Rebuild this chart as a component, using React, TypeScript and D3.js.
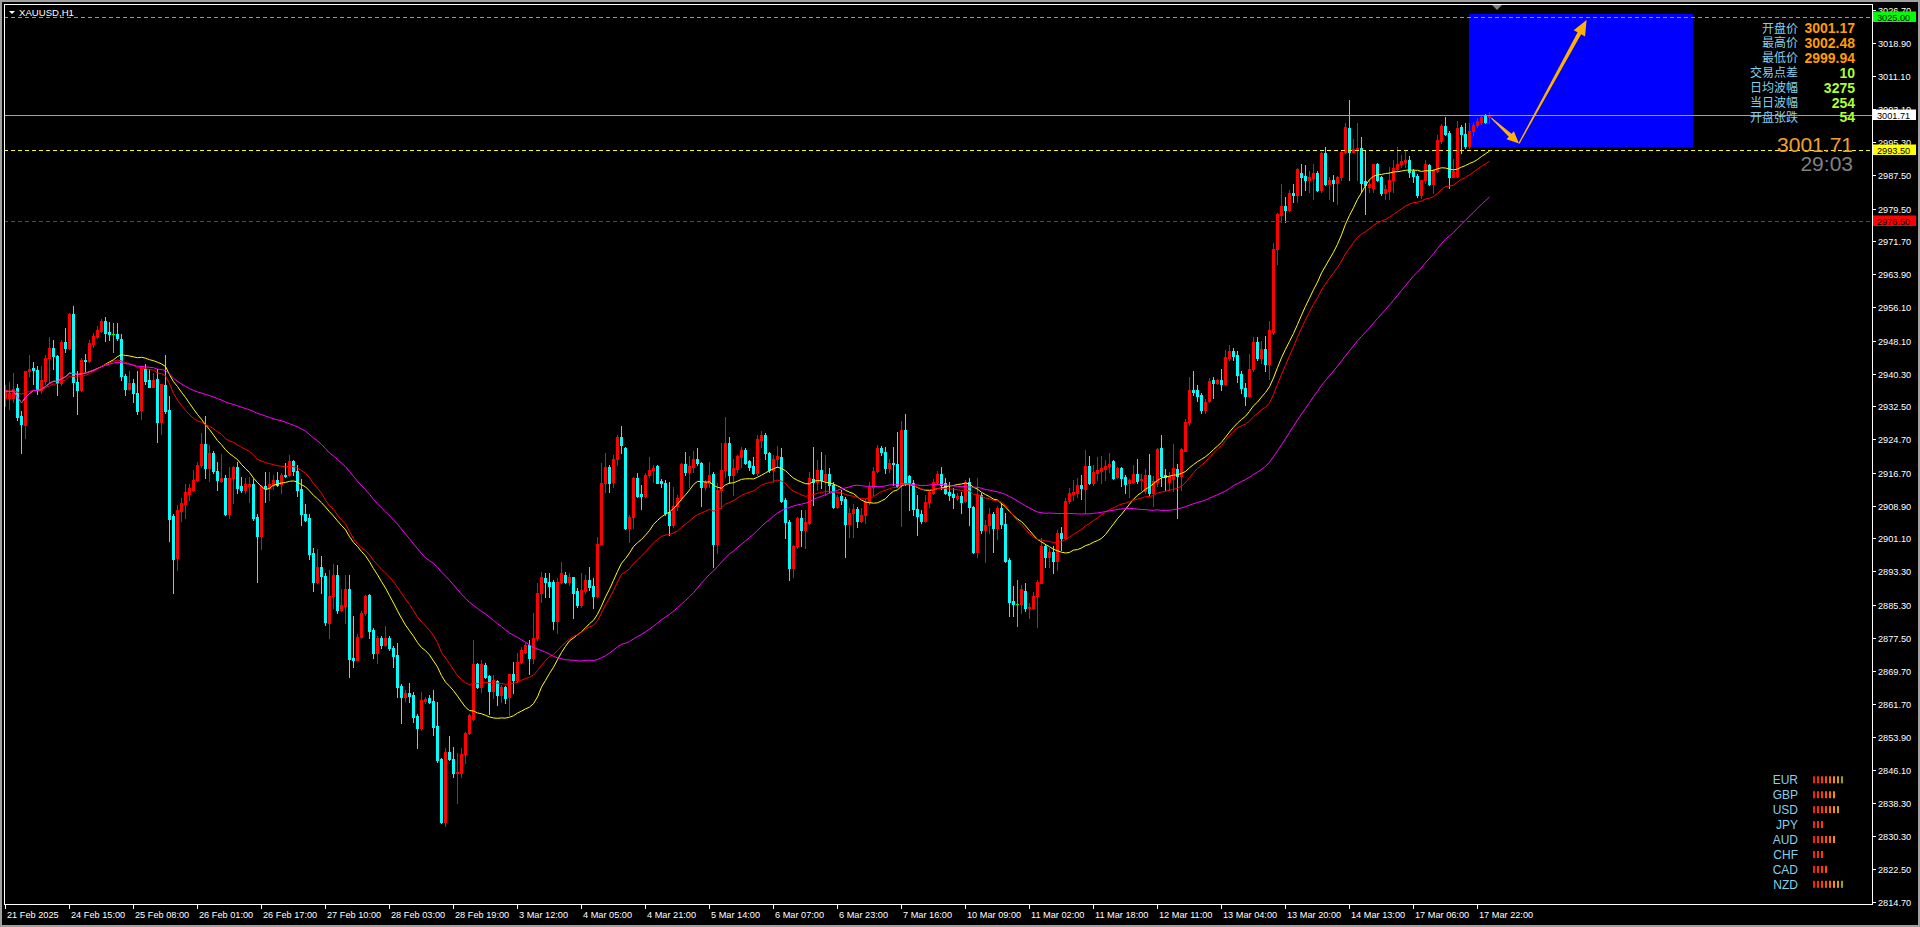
import React, { useEffect } from 'react';
import * as d3 from 'd3';

// ---------------- DATA ----------------
const opens = [
2934.4,2934.5,2934.5,2936.9,2930.1,2928.1,2940.8,2941.5,2941.1,2936.4,
2938.6,2944.0,2946.4,2944.4,2938.1,2947.8,2946.4,2954.5,2938.3,2936.4,
2943.5,2943.3,2947.4,2949.1,2950.4,2952.8,2950.2,2949.6,2949.6,2948.6,
2939.6,2936.6,2938.1,2935.7,2931.6,2941.4,2938.8,2937.2,2938.9,2928.7,
2937.6,2931.6,2906.4,2896.4,2907.7,2909.4,2911.7,2912.7,2915.0,2918.6,
2923.6,2917.9,2921.5,2917.2,2914.8,2915.4,2906.8,2915.4,2918.0,2913.5,
2912.6,2913.5,2914.1,2906.2,2901.8,2913.5,2913.0,2913.7,2915.1,2914.1,
2916.3,2916.3,2919.6,2917.2,2912.9,2906.8,2905.9,2897.6,2890.8,2894.3,
2892.1,2881.1,2887.4,2892.3,2884.2,2885.0,2889.1,2872.7,2872.2,2877.6,
2883.5,2887.6,2879.3,2873.8,2877.4,2875.8,2877.4,2875.0,2873.4,2866.1,
2863.5,2864.3,2863.9,2858.9,2856.0,2862.5,2863.3,2862.5,2856.5,2848.8,
2833.8,2850.4,2848.8,2845.3,2845.3,2849.9,2854.8,2858.1,2871.2,2865.9,
2871.0,2868.4,2864.9,2867.2,2863.9,2865.7,2863.5,2868.9,2867.5,2871.8,
2874.2,2875.8,2872.8,2877.4,2888.1,2891.6,2890.8,2890.8,2881.6,2890.8,
2892.4,2890.8,2891.9,2888.5,2885.3,2888.5,2891.2,2889.8,2887.5,2899.9,
2914.2,2918.2,2914.6,2919.9,2925.1,2922.7,2903.5,2906.1,2915.4,2911.7,
2911.3,2916.2,2917.4,2918.3,2914.8,2914.4,2907.5,2904.3,2908.7,2910.8,
2918.8,2917.0,2918.2,2920.1,2919.1,2913.3,2914.4,2916.4,2899.9,2912.6,
2917.4,2923.9,2916.2,2917.5,2920.5,2922.1,2919.6,2918.3,2916.7,2924.5,
2925.7,2921.3,2917.4,2919.9,2920.5,2910.2,2904.9,2894.2,2899.2,2906.0,
2903.1,2904.7,2915.2,2914.6,2917.4,2915.0,2916.4,2913.8,2908.5,2911.3,
2910.4,2904.5,2907.1,2908.0,2905.3,2906.7,2909.8,2913.3,2917.2,2922.7,
2921.7,2917.8,2919.0,2918.8,2913.8,2926.9,2915.9,2914.2,2908.1,2906.9,
2905.3,2909.8,2912.0,2914.6,2916.4,2914.4,2912.2,2911.7,2910.6,2911.2,
2910.1,2914.6,2908.5,2898.0,2911.4,2903.1,2904.3,2906.9,2903.7,2908.3,
2904.5,2896.0,2886.2,2885.5,2885.5,2888.6,2884.5,2884.5,2887.4,2890.6,
2899.3,2896.6,2898.0,2895.7,2902.5,2901.1,2910.0,2911.7,2911.8,2913.8,
2912.8,2918.3,2914.2,2916.7,2917.2,2917.7,2918.3,2919.5,2915.6,2917.8,
2915.6,2914.2,2914.6,2916.4,2915.0,2912.3,2916.2,2911.9,2914.5,2922.5,
2916.2,2914.5,2915.3,2917.7,2916.0,2922.0,2928.7,2936.4,2936.4,2935.2,
2931.7,2933.7,2938.7,2938.1,2938.7,2937.9,2944.0,2945.6,2944.8,2940.2,
2936.9,2935.0,2941.4,2947.9,2943.9,2946.2,2942.5,2950.2,2969.8,2977.9,
2980.2,2979.2,2983.1,2982.7,2987.9,2987.3,2986.2,2986.7,2987.9,2983.9,
2992.7,2985.4,2986.4,2985.6,2986.9,2992.9,2998.7,2993.0,2993.4,2993.9,
2986.0,2984.6,2984.5,2990.0,2986.9,2983.1,2983.7,2986.2,2988.9,2990.0,
2990.6,2991.0,2988.4,2987.3,2982.7,2986.2,2989.8,2985.4,2988.4,2995.6,
2999.2,2997.5,2987.0,2987.3,2998.9,2997.3,2994.4,2997.9,2999.4,3000.0,
3001.4,3001.17
];
const highs = [
2937.5,2938.3,2940.5,2937.9,2931.4,2941.0,2944.8,2943.1,2942.2,2942.2,
2944.8,2949.0,2948.3,2944.8,2948.3,2951.1,2954.8,2956.3,2940.9,2944.0,
2945.0,2948.3,2950.0,2951.5,2953.2,2953.7,2952.6,2952.4,2952.2,2949.6,
2940.1,2940.9,2938.9,2940.9,2942.2,2942.5,2941.4,2940.5,2941.4,2937.9,
2944.8,2934.9,2906.8,2909.0,2910.7,2914.1,2914.1,2917.4,2919.3,2926.2,
2930.1,2923.4,2921.9,2919.3,2921.2,2916.3,2918.0,2918.3,2919.3,2915.6,
2915.4,2915.6,2915.2,2906.8,2913.7,2916.9,2916.9,2916.3,2916.9,2916.7,
2919.1,2920.9,2919.8,2918.5,2915.2,2909.2,2906.8,2898.9,2898.6,2896.9,
2893.0,2893.7,2895.1,2894.9,2889.1,2892.5,2892.3,2882.6,2878.3,2883.9,
2887.6,2887.9,2879.8,2878.0,2878.0,2880.3,2878.0,2875.5,2876.2,2866.5,
2865.0,2866.7,2864.5,2859.3,2864.7,2863.5,2863.9,2865.1,2862.3,2848.9,
2851.2,2854.1,2851.6,2850.0,2851.2,2855.2,2859.5,2877.0,2871.4,2872.2,
2871.4,2868.6,2868.6,2867.5,2866.3,2866.0,2869.0,2871.8,2873.8,2875.4,
2876.2,2877.0,2883.3,2890.4,2893.2,2892.8,2892.8,2891.2,2891.6,2895.4,
2893.2,2893.0,2892.0,2889.4,2893.0,2892.4,2894.4,2891.6,2901.5,2919.0,
2921.3,2918.6,2920.9,2925.7,2927.8,2922.9,2906.7,2915.8,2916.7,2913.8,
2916.6,2920.5,2918.6,2918.6,2915.2,2915.0,2914.6,2913.4,2911.4,2919.1,
2921.7,2920.7,2922.0,2922.5,2919.2,2915.0,2919.3,2917.0,2914.2,2923.9,
2930.0,2925.3,2920.1,2920.9,2922.9,2922.5,2919.8,2920.5,2925.7,2926.6,
2926.1,2921.7,2920.9,2923.1,2922.5,2910.6,2905.6,2899.5,2906.3,2907.9,
2907.9,2917.0,2922.9,2919.8,2921.7,2920.9,2917.8,2914.6,2911.4,2912.6,
2911.0,2908.3,2909.3,2908.5,2908.3,2910.4,2914.6,2918.2,2923.3,2923.1,
2922.9,2920.1,2922.9,2926.5,2928.9,2930.7,2916.1,2915.0,2911.4,2907.9,
2911.4,2912.6,2915.2,2917.2,2918.2,2915.4,2914.6,2913.0,2912.0,2912.2,
2915.0,2915.4,2908.8,2915.4,2911.8,2905.5,2908.3,2907.5,2908.8,2909.5,
2907.1,2896.4,2889.8,2891.2,2890.0,2890.4,2885.7,2888.4,2891.2,2901.1,
2899.9,2898.8,2899.2,2903.1,2903.9,2910.6,2913.0,2915.0,2915.4,2916.2,
2922.1,2920.7,2918.6,2920.5,2920.7,2919.8,2921.5,2919.8,2918.2,2918.2,
2916.2,2915.2,2918.6,2920.1,2916.4,2917.7,2921.2,2916.0,2922.7,2925.6,
2917.7,2916.9,2923.5,2918.9,2922.7,2929.4,2939.4,2940.8,2937.5,2935.6,
2934.3,2939.2,2939.4,2938.9,2941.4,2946.0,2947.0,2946.4,2945.6,2941.0,
2938.1,2945.0,2948.9,2948.9,2948.1,2949.3,2952.7,2971.4,2978.5,2985.3,
2982.3,2983.9,2985.3,2989.2,2990.0,2989.8,2988.5,2990.0,2988.4,2992.9,
2994.1,2986.9,2987.5,2987.3,2993.4,2999.8,3005.2,2996.0,2999.8,2996.4,
2993.5,2986.5,2990.2,2990.4,2987.3,2985.2,2989.5,2991.0,2994.1,2992.3,
2993.4,2992.0,2988.9,2987.7,2986.4,2991.0,2990.2,2988.9,2997.0,2999.5,
3001.2,2997.9,2991.4,3000.4,2999.4,2999.8,2999.8,3000.2,3001.1,3001.7,
3002.0,3002.48
];
const lows = [
2932.7,2931.9,2933.6,2929.3,2921.3,2924.9,2939.8,2937.9,2935.5,2935.7,
2937.9,2938.3,2941.4,2935.3,2937.5,2945.3,2946.1,2934.9,2930.7,2936.2,
2940.9,2943.1,2946.5,2948.7,2950.2,2948.1,2948.3,2945.3,2948.3,2938.8,
2935.1,2936.3,2933.6,2930.6,2929.5,2937.9,2937.0,2937.0,2924.1,2926.0,
2931.0,2900.6,2888.2,2893.7,2905.3,2906.0,2910.3,2912.4,2914.8,2918.0,
2915.4,2914.8,2916.7,2912.7,2914.6,2906.6,2906.0,2909.6,2912.0,2912.2,
2912.0,2909.8,2905.5,2890.8,2898.6,2909.8,2910.3,2912.9,2913.5,2912.0,
2915.7,2915.9,2916.3,2911.3,2904.4,2905.2,2896.3,2888.7,2890.6,2888.2,
2880.6,2877.4,2884.5,2883.5,2883.9,2881.1,2868.1,2870.5,2872.1,2877.4,
2883.0,2877.4,2872.7,2871.4,2875.0,2875.5,2874.5,2870.6,2863.5,2857.2,
2862.5,2862.3,2857.5,2851.2,2855.5,2862.0,2861.9,2854.4,2848.0,2833.5,
2832.8,2848.4,2844.5,2838.2,2844.5,2847.7,2854.6,2857.9,2865.5,2864.7,
2867.9,2859.5,2863.1,2861.5,2862.3,2861.9,2859.1,2864.3,2867.1,2871.4,
2873.8,2869.0,2871.4,2877.0,2886.1,2887.3,2887.3,2879.7,2878.6,2890.4,
2890.4,2890.0,2882.1,2884.9,2884.9,2888.2,2888.8,2884.5,2887.1,2899.8,
2912.2,2912.2,2913.3,2918.6,2921.3,2903.3,2900.3,2903.5,2911.0,2908.1,
2911.0,2915.6,2914.6,2914.2,2913.4,2906.7,2901.9,2903.9,2907.9,2910.2,
2916.2,2913.3,2917.0,2918.6,2908.8,2912.6,2913.4,2894.4,2897.7,2908.3,
2915.8,2914.2,2911.4,2917.0,2918.2,2918.8,2917.4,2916.4,2916.2,2922.9,
2920.1,2917.0,2914.6,2918.2,2909.8,2901.1,2891.2,2892.0,2898.8,2899.2,
2898.8,2904.5,2909.1,2912.6,2913.0,2911.4,2912.2,2908.3,2908.3,2909.4,
2896.8,2901.5,2901.4,2903.9,2904.9,2904.7,2909.4,2911.4,2917.0,2920.9,
2916.7,2917.0,2913.8,2913.4,2904.1,2913.8,2907.9,2906.7,2901.9,2904.7,
2904.9,2908.5,2911.7,2914.0,2912.8,2911.7,2910.2,2908.3,2910.2,2907.1,
2909.8,2904.3,2897.7,2896.8,2902.5,2895.6,2902.3,2898.0,2900.9,2903.5,
2895.6,2882.7,2882.7,2880.3,2883.3,2883.9,2882.1,2884.3,2880.1,2890.4,
2894.4,2894.4,2892.8,2893.6,2898.4,2900.9,2909.5,2910.2,2911.0,2910.4,
2907.1,2914.0,2913.8,2915.0,2914.2,2915.0,2917.0,2915.2,2915.4,2913.6,
2912.0,2910.9,2914.4,2914.4,2912.7,2911.9,2911.4,2908.9,2913.5,2913.5,
2912.7,2912.7,2912.3,2906.0,2912.7,2921.9,2928.1,2935.2,2933.7,2931.0,
2930.9,2933.5,2934.5,2937.7,2936.4,2937.5,2943.5,2943.4,2938.4,2935.6,
2932.9,2934.8,2941.0,2943.5,2942.7,2941.0,2938.9,2949.8,2966.4,2976.4,
2976.2,2978.9,2981.0,2981.0,2982.7,2983.9,2983.5,2981.7,2983.7,2983.5,
2985.2,2981.7,2981.2,2980.6,2986.4,2992.7,2986.2,2992.9,2986.4,2983.4,
2978.3,2983.5,2983.5,2986.0,2982.7,2981.7,2981.7,2983.5,2988.5,2989.5,
2989.4,2986.9,2985.9,2982.3,2982.0,2985.6,2985.2,2983.1,2988.1,2995.2,
2996.9,2984.5,2986.9,2986.9,2992.7,2993.9,2993.9,2997.0,2998.9,2999.6,
2999.8,2999.94
];
const closes = [
2936.2,2935.7,2936.6,2930.0,2928.2,2940.9,2941.4,2941.1,2936.4,2938.8,
2944.0,2946.4,2944.4,2938.1,2947.8,2946.4,2954.5,2938.3,2936.4,2943.5,
2943.3,2947.6,2949.3,2950.6,2952.8,2950.0,2949.6,2949.6,2948.7,2939.6,
2936.6,2938.1,2935.7,2931.4,2941.5,2938.6,2937.2,2938.8,2928.7,2937.7,
2931.4,2905.8,2896.3,2907.8,2909.6,2912.2,2913.0,2915.0,2918.6,2923.6,
2917.9,2921.5,2917.2,2914.9,2915.4,2906.8,2915.4,2918.0,2913.1,2912.6,
2914.1,2914.1,2905.9,2901.8,2913.5,2913.1,2914.1,2915.0,2913.7,2916.3,
2915.9,2919.6,2917.2,2912.7,2906.8,2905.5,2897.5,2890.8,2894.3,2892.1,
2881.3,2887.4,2892.3,2884.2,2885.2,2889.1,2872.5,2872.2,2877.6,2883.5,
2887.4,2879.2,2873.8,2877.4,2875.8,2877.4,2875.0,2873.2,2865.9,2863.5,
2864.3,2863.7,2858.7,2856.0,2862.7,2862.9,2862.3,2856.4,2848.4,2833.8,
2850.4,2848.6,2845.3,2845.6,2849.9,2854.8,2859.1,2871.2,2865.9,2871.2,
2868.1,2864.9,2867.5,2863.9,2865.7,2863.3,2868.9,2867.5,2871.8,2874.6,
2875.8,2872.8,2877.4,2888.1,2892.0,2890.8,2889.9,2881.5,2890.8,2893.0,
2890.8,2891.9,2888.2,2885.3,2888.9,2891.2,2889.5,2887.5,2899.9,2914.2,
2918.2,2914.2,2919.9,2925.1,2923.3,2903.5,2906.3,2915.4,2911.3,2911.3,
2916.2,2917.4,2917.9,2914.4,2914.2,2907.1,2904.3,2908.8,2910.8,2918.8,
2917.0,2918.3,2919.9,2919.0,2913.3,2914.6,2916.2,2899.9,2912.6,2917.4,
2923.9,2916.2,2917.8,2920.7,2922.1,2919.1,2918.2,2916.7,2924.7,2925.7,
2921.3,2917.4,2919.9,2920.7,2910.1,2904.9,2894.2,2899.3,2906.0,2903.1,
2904.9,2915.4,2914.6,2917.4,2915.0,2916.4,2913.8,2908.5,2910.9,2910.2,
2904.5,2907.1,2908.0,2905.3,2906.7,2909.8,2913.3,2917.2,2922.7,2921.7,
2917.8,2919.1,2918.7,2913.6,2926.9,2914.2,2914.2,2908.1,2906.4,2905.3,
2909.8,2912.2,2914.6,2916.4,2913.8,2912.0,2911.4,2911.0,2911.2,2909.8,
2914.6,2908.5,2898.0,2911.4,2903.0,2904.3,2906.9,2903.7,2908.3,2904.5,
2895.8,2886.1,2885.5,2885.5,2889.2,2884.5,2884.7,2887.4,2890.8,2899.2,
2896.6,2898.0,2895.7,2902.5,2901.1,2910.0,2911.8,2912.2,2913.8,2913.0,
2918.3,2914.2,2917.0,2917.4,2917.8,2918.3,2918.7,2915.4,2917.8,2915.4,
2914.0,2915.0,2916.4,2914.8,2915.3,2916.2,2912.0,2914.8,2922.3,2916.0,
2915.6,2916.0,2917.9,2916.0,2922.3,2928.7,2936.4,2936.0,2935.0,2931.7,
2933.5,2938.5,2938.1,2938.7,2937.9,2944.2,2945.6,2944.5,2940.0,2936.9,
2935.0,2941.4,2947.9,2943.9,2946.2,2942.5,2950.6,2969.8,2978.1,2980.2,
2979.2,2983.1,2982.7,2988.9,2987.0,2986.2,2986.9,2987.9,2983.9,2992.7,
2985.4,2986.4,2985.6,2987.0,2992.9,2998.9,2992.9,2993.6,2993.9,2985.6,
2985.2,2985.3,2990.0,2986.4,2983.1,2984.2,2986.2,2989.2,2990.2,2990.9,
2991.0,2988.1,2987.3,2982.7,2986.2,2990.0,2985.4,2988.7,2995.9,2999.2,
2997.3,2987.0,2988.5,2998.7,2997.3,2994.4,2997.9,2999.4,3000.4,3001.2,
3000.2,3001.71
];

const timeLabels = [
  '21 Feb 2025', '24 Feb 15:00', '25 Feb 08:00', '26 Feb 01:00', '26 Feb 17:00', '27 Feb 10:00',
  '28 Feb 03:00', '28 Feb 19:00', '3 Mar 12:00', '4 Mar 05:00', '4 Mar 21:00', '5 Mar 14:00',
  '6 Mar 07:00', '6 Mar 23:00', '7 Mar 16:00', '10 Mar 09:00', '11 Mar 02:00', '11 Mar 18:00',
  '12 Mar 11:00', '13 Mar 04:00', '13 Mar 20:00', '14 Mar 13:00', '17 Mar 06:00', '17 Mar 22:00'
];
const labelEveryBars = 16;

const priceTicks = [
  3026.7, 3018.9, 3011.1, 3003.1, 2995.3, 2987.5, 2979.5, 2971.7, 2963.9, 2956.1, 2948.1, 2940.3,
  2932.5, 2924.7, 2916.7, 2908.9, 2901.1, 2893.3, 2885.3, 2877.5, 2869.7, 2861.7, 2853.9, 2846.1,
  2838.3, 2830.3, 2822.5, 2814.7
];

const levelPrices = [3025.0, 2993.5, 2976.5];
const levelColors = ['#00FF00', '#FFFF00', '#FF0000'];
const bidPrice = 3001.71;

const infoLabels = ['开盘价', '最高价', '最低价', '交易点差', '日均波幅', '当日波幅', '开盘张跌'];
const infoValues = ['3001.17', '3002.48', '2999.94', '10', '3275', '254', '54'];
const infoValueColors = ['#FF9C00', '#FF9C00', '#FF9C00', '#ADFF2F', '#ADFF2F', '#ADFF2F', '#ADFF2F'];
const countdown = '29:03';

const currencies = ['EUR', 'GBP', 'USD', 'JPY', 'AUD', 'CHF', 'CAD', 'NZD'];
const strengths = [8, 6, 7, 3, 6, 3, 4, 8];
const strengthPalette = ['#FF1E00', '#FF2A00', '#FF3A00', '#FF4E00', '#FF6A00', '#FF8C00', '#D8A000', '#9CA000'];

// drawn objects in (bar index, price)
const boxCorners = [[366, 3025.75], [422, 2994.0]];
const arrowTails = [[371.6, 3001.0], [378.5, 2995.0]];
const arrowTips = [[378.5, 2995.0], [395.4, 3024.3]];

const maSpecs = [
  { period: 25, kind: 'sma', color: '#FFFF00' },
  { period: 35, kind: 'ema', color: '#FF0000' },
  { period: 65, kind: 'sma', color: '#FF00FF' },
];

// ---------------- HELPERS ----------------
function sma(v: number[], n: number) {
  return v.map((_, i) => d3.mean(v.slice(Math.max(0, i - n + 1), i + 1)) as number);
}
function ema(v: number[], n: number) {
  const a = 2 / (n + 1);
  let e = v[0];
  return v.map((x, i) => (i === 0 ? e : (e = e + a * (x - e))));
}
function arrowPoly(x0: number, y0: number, x1: number, y1: number, hl: number, hw: number, w0: number, w1: number) {
  const dx = x1 - x0, dy = y1 - y0, L = Math.hypot(dx, dy);
  const ux = dx / L, uy = dy / L, nx = -uy, ny = ux;
  const bx = x1 - ux * hl, by = y1 - uy * hl;
  const pts = [
    [x0 + nx * w0, y0 + ny * w0], [bx + nx * w1, by + ny * w1], [bx + nx * hw, by + ny * hw],
    [x1, y1], [bx - nx * hw, by - ny * hw], [bx - nx * w1, by - ny * w1], [x0 - nx * w0, y0 - ny * w0],
  ];
  return pts.map(p => p.join(',')).join(' ');
}

const W = 1920, H = 927;
const FL = 4, FT = 4, FR = 1872, FB = 904;
const font = "'Liberation Sans', Arial, sans-serif";
const cjk = "'Noto Sans CJK SC', 'Liberation Sans', sans-serif";

export default function App() {
  useEffect(() => {
    document.body.style.margin = '0';
    document.body.style.overflow = 'hidden';
    document.body.style.background = '#000';
  }, []);

  const n = Math.min(opens.length, highs.length, lows.length, closes.length);
  const x = d3.scaleLinear().domain([0, 1]).range([5, 9]);
  const y = d3.scaleLinear().domain([2814.7, 3026.7]).range([902, 10]);

  const cl = closes.slice(0, n);
  const maLines = maSpecs.map(s => {
    const vals = s.kind === 'ema' ? ema(cl, s.period) : sma(cl, s.period);
    const line = d3.line<number>().x((_, i) => x(i) + 0.5).y(v => y(v));
    return { d: line(vals) as string, color: s.color };
  });

  const candles = [];
  for (let i = 0; i < n; i++) {
    const o = opens[i], h = highs[i], l = lows[i], c = closes[i];
    const col = c > o ? '#FF0000' : c < o ? '#00FFFF' : '#00FF00';
    const cx = Math.round(x(i));
    const bt = Math.round(y(Math.max(o, c)));
    const bb = Math.round(y(Math.min(o, c)));
    const wt = Math.round(y(h));
    const wb = Math.round(y(l));
    candles.push(
      <g key={i}>
        <rect x={cx} y={wt} width={1} height={wb - wt + 1} fill={col} />
        <rect x={cx - 1} y={bt} width={3} height={Math.max(1, bb - bt + 1)} fill={col} />
      </g>
    );
  }

  const bx0 = x(boxCorners[0][0]), bx1 = x(boxCorners[1][0]);
  const by0 = y(boxCorners[0][1]), by1 = y(boxCorners[1][1]);

  const infoY0 = 28.3, infoStep = 14.85;
  const curY0 = 779.8, curStep = 14.93;

  const levelBox = (price: number, bg: string, key: string) => {
    const yy = Math.round(y(price));
    return (
      <g key={key}>
        <rect x={1873} y={yy - 5.5} width={43} height={10.5} fill={bg} />
        <text x={1877} y={yy + 3.5} fontFamily={font} fontSize={9.2} fill="#000">{price.toFixed(2)}</text>
      </g>
    );
  };

  return (
    <div style={{ position: 'absolute', left: 0, top: 0, width: W, height: H }}>
      <svg width={W} height={H} style={{ display: 'block', background: '#000' }}>
        <defs>
          <clipPath id="plot"><rect x={FL + 1} y={FT + 1} width={FR - FL - 1} height={FB - FT - 1} /></clipPath>
        </defs>
        <rect x={0} y={0} width={W} height={H} fill="#000" />
        <rect x={1} y={1} width={W - 2} height={H - 2} fill="none" stroke="#A0A0A0" strokeWidth={2} />

        <g clipPath="url(#plot)">
          <rect x={bx0} y={by0} width={bx1 - bx0} height={by1 - by0} fill="#0000FF" />
          {candles}
          {maLines.map((m, k) => (
            <path key={k} d={m.d} fill="none" stroke={m.color} strokeWidth={1} />
          ))}
          {levelPrices.map((p, k) => (
            <line key={k} x1={FL} x2={FR} y1={Math.round(y(p)) + 0.5} y2={Math.round(y(p)) + 0.5}
              stroke={levelColors[k]} strokeWidth={1} strokeDasharray="4,3" />
          ))}
          <line x1={FL} x2={FR} y1={Math.round(y(bidPrice)) + 0.5} y2={Math.round(y(bidPrice)) + 0.5} stroke="#A0A0A8" strokeWidth={1} />
          {arrowTails.map((t, k) => (
            <polygon key={k}
              points={arrowPoly(x(t[0]), y(t[1]), x(arrowTips[k][0]), y(arrowTips[k][1]), k === 0 ? 12 : 15, k === 0 ? 5.5 : 6.5, 0.6, 2)}
              fill="#FFB000" />
          ))}
        </g>

        {/* frame */}
        <line x1={FL + 0.5} x2={FL + 0.5} y1={FT} y2={FB + 1} stroke="#FFF" />
        <line x1={FL} x2={FR + 1} y1={FT + 0.5} y2={FT + 0.5} stroke="#FFF" />
        <line x1={FR + 0.5} x2={FR + 0.5} y1={FT} y2={FB + 1} stroke="#FFF" />
        <line x1={FL} x2={FR + 1} y1={FB + 0.5} y2={FB + 0.5} stroke="#FFF" />

        {/* chart shift marker */}
        <polygon points="1492,5 1502,5 1497,10" fill="#808080" />

        {/* title */}
        <polygon points="9,11 15,11 12,14" fill="#FFF" />
        <text x={19} y={16} fontFamily={font} fontSize={9.6} fill="#FFF">XAUUSD,H1</text>

        {/* price axis */}
        {priceTicks.map((p, k) => {
          const yy = Math.round(y(p));
          return (
            <g key={k}>
              <line x1={FR} x2={FR + 4} y1={yy + 0.5} y2={yy + 0.5} stroke="#FFF" />
              <text x={1878} y={yy + 3.5} fontFamily={font} fontSize={9.2} fill="#FFF">{p.toFixed(2)}</text>
            </g>
          );
        })}
        {levelBox(levelPrices[0], levelColors[0], 'g')}
        {levelBox(bidPrice, '#FFFFFF', 'b')}
        {levelBox(levelPrices[1], levelColors[1], 'yl')}
        {levelBox(levelPrices[2], levelColors[2], 'r')}

        {/* time axis */}
        {timeLabels.map((t, k) => {
          const xx = Math.round(x(k * labelEveryBars));
          return (
            <g key={k}>
              <line x1={xx + 0.5} x2={xx + 0.5} y1={FB} y2={FB + 5} stroke="#FFF" />
              <text x={xx + 2} y={918} fontFamily={font} fontSize={9.2} fill="#FFF">{t}</text>
            </g>
          );
        })}

        {/* info panel */}
        {infoLabels.map((t, k) => (
          <g key={k}>
            <text x={1798} y={infoY0 + k * infoStep + 4.3} textAnchor="end" fontFamily={cjk} fontSize={12} fill="#87CEEB">{t}</text>
            <text x={1855} y={infoY0 + k * infoStep + 5} textAnchor="end" fontFamily={font} fontWeight="bold" fontSize={14} fill={infoValueColors[k]}>{infoValues[k]}</text>
          </g>
        ))}
        <text x={1853} y={151.5} textAnchor="end" fontFamily={font} fontSize={21} fill="#F0A030">{bidPrice.toFixed(2)}</text>
        <text x={1853} y={171} textAnchor="end" fontFamily={font} fontSize={21} fill="#808080">{countdown}</text>

        {/* currency strength */}
        {currencies.map((c, k) => {
          const cy = curY0 + k * curStep;
          return (
            <g key={c}>
              <text x={1798} y={cy + 4.5} textAnchor="end" fontFamily={font} fontSize={12} fill="#87CEEB">{c}</text>
              {d3.range(strengths[k]).map(j => (
                <rect key={j} x={1813 + j * 4} y={cy - 3.5} width={2} height={7} fill={strengthPalette[j]} />
              ))}
            </g>
          );
        })}
      </svg>
    </div>
  );
}
